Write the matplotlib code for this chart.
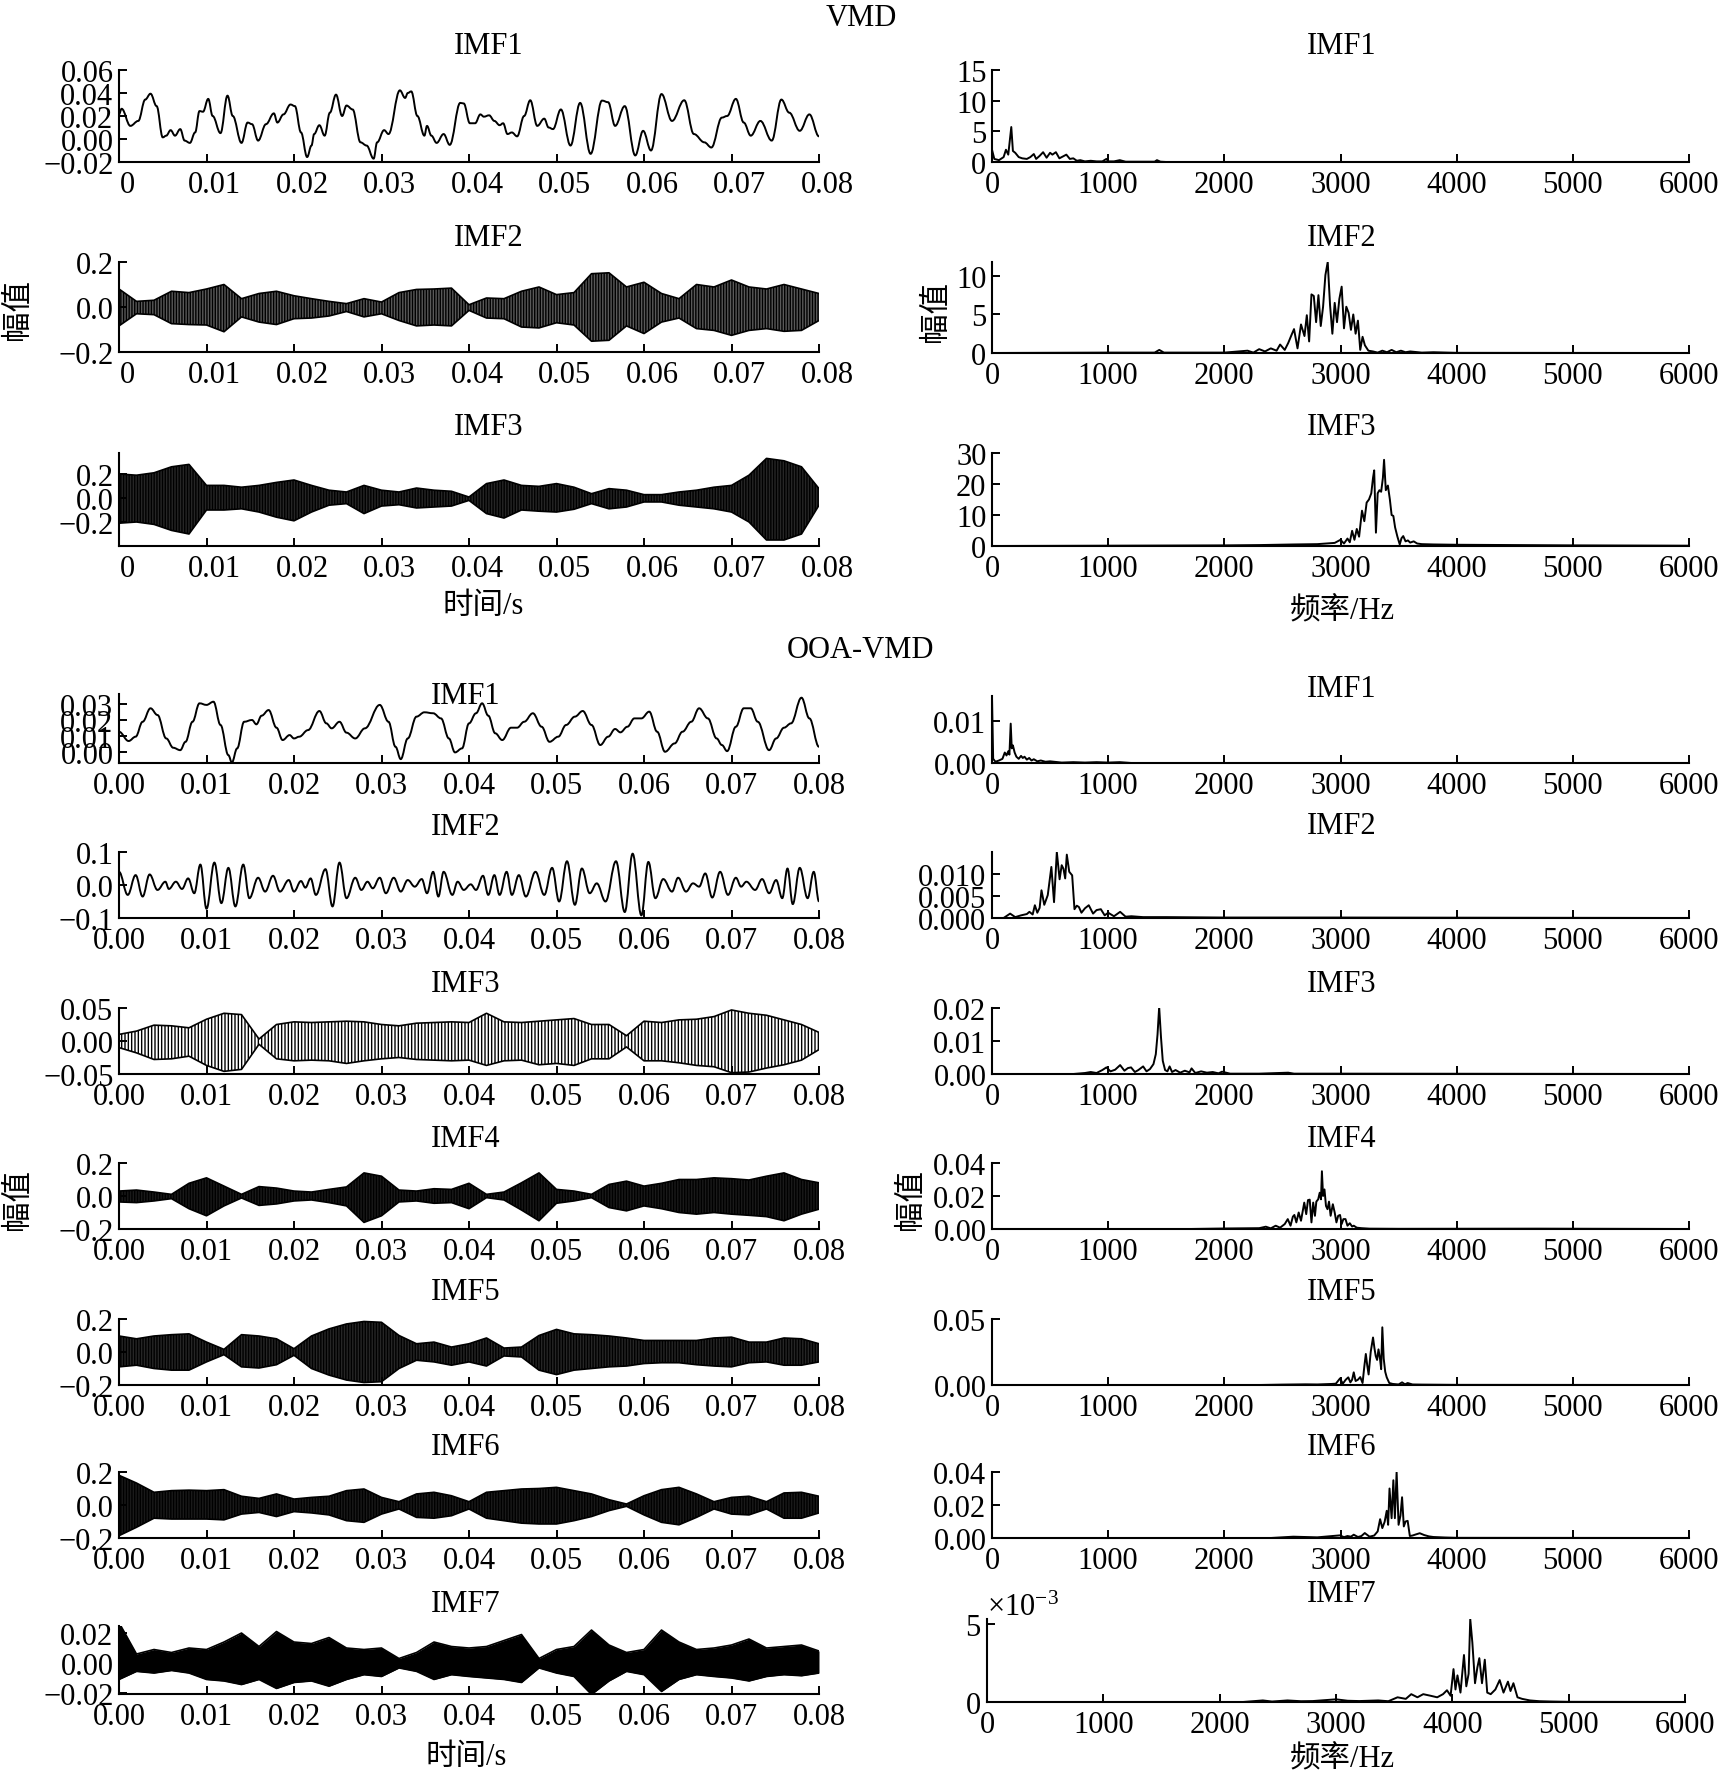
import numpy as np
import matplotlib
matplotlib.use('Agg')
import matplotlib.pyplot as plt
from matplotlib.path import Path
from matplotlib.patches import PathPatch
from matplotlib.ticker import ScalarFormatter
import matplotlib.transforms as mtransforms

plt.rcParams['font.family'] = ['Liberation Serif', 'Noto Sans CJK SC']
plt.rcParams['mathtext.fontset'] = 'custom'
plt.rcParams['mathtext.rm'] = 'Liberation Serif'
plt.rcParams['mathtext.it'] = 'Liberation Serif:italic'
plt.rcParams['hatch.linewidth'] = 1.0
plt.rcParams['axes.unicode_minus'] = True

# ---------------- data: time-domain (low frequency, extrema) ----------------
vmd1_t = [0, 0.0003, 0.0013, 0.0022, 0.0030, 0.0036, 0.0043, 0.0050, 0.0054, 0.0059, 0.0064, 0.0070,
          0.0075, 0.0081, 0.0087, 0.0092, 0.0096, 0.0102, 0.0107, 0.0116, 0.0124, 0.0130, 0.0140, 0.0147,
          0.0152, 0.0159, 0.0168, 0.0177, 0.0181, 0.0188, 0.0196, 0.0201, 0.0208, 0.0215, 0.0220, 0.0223,
          0.0229, 0.0235, 0.0241, 0.0248, 0.0255, 0.0260, 0.0267, 0.0276, 0.0283, 0.0291, 0.0295, 0.0303,
          0.0308, 0.0321, 0.0327, 0.0330, 0.0334, 0.0341, 0.0349, 0.0352, 0.0357, 0.0363, 0.0371, 0.0378,
          0.0390, 0.0394, 0.0401, 0.0407, 0.0413, 0.0417, 0.0423, 0.0429, 0.0435, 0.0439, 0.0444, 0.0449,
          0.0455, 0.0463, 0.0470, 0.0478, 0.0486, 0.0491, 0.0496, 0.0505, 0.0516, 0.0527, 0.0539, 0.0552,
          0.0559, 0.0567, 0.0578, 0.0590, 0.0599, 0.0608, 0.0620, 0.0632, 0.0646, 0.0657, 0.0669, 0.0677,
          0.0689, 0.0695, 0.0705, 0.0714, 0.0722, 0.0733, 0.0746, 0.0757, 0.0766, 0.0778, 0.0789, 0.0800]
vmd1_v = [0.0214, 0.0263, 0.0114, 0.0157, 0.0343, 0.0394, 0.0286, 0.0014, 0.0029, 0.0077, 0.0029, 0.0086,
          -0.0014, -0.0034, 0.0057, 0.0243, 0.0237, 0.0349, 0.0200, 0.0051, 0.0377, 0.0200, -0.0034, 0.0143,
          0.0129, -0.0014, 0.0129, 0.0223, 0.0143, 0.0214, 0.0300, 0.0286, 0.0057, -0.0157, -0.0057, 0.0043,
          0.0120, 0.0029, 0.0229, 0.0386, 0.0200, 0.0291, 0.0257, -0.0029, -0.0057, -0.0171, -0.0029, 0.0077,
          0.0043, 0.0423, 0.0357, 0.0400, 0.0414, 0.0200, 0.0029, 0.0114, 0.0029, -0.0034, 0.0043, -0.0051,
          0.0314, 0.0309, 0.0137, 0.0137, 0.0214, 0.0194, 0.0206, 0.0157, 0.0120, 0.0137, 0.0043, 0.0057,
          0.0023, 0.0200, 0.0337, 0.0114, 0.0177, 0.0100, 0.0086, 0.0257, -0.0057, 0.0314, -0.0129, 0.0334,
          0.0320, 0.0114, 0.0286, -0.0143, 0.0071, -0.0100, 0.0391, 0.0157, 0.0337, 0.0043, -0.0029, -0.0074,
          0.0186, 0.0200, 0.0349, 0.0143, 0.0029, 0.0157, -0.0014, 0.0343, 0.0229, 0.0071, 0.0214, 0.0023]

ooa1_t = [0, 0.0011, 0.0019, 0.0027, 0.0036, 0.0044, 0.0054, 0.0062, 0.0070, 0.0076, 0.0084, 0.0092,
          0.0100, 0.0108, 0.0116, 0.0125, 0.0129, 0.0135, 0.0143, 0.0152, 0.0157, 0.0163, 0.0171, 0.0180,
          0.0187, 0.0195, 0.0200, 0.0206, 0.0216, 0.0229, 0.0237, 0.0243, 0.0252, 0.0260, 0.0270, 0.0281,
          0.0298, 0.0308, 0.0316, 0.0322, 0.0330, 0.0340, 0.0349, 0.0359, 0.0368, 0.0377, 0.0384, 0.0392,
          0.0400, 0.0408, 0.0415, 0.0422, 0.0430, 0.0438, 0.0448, 0.0455, 0.0463, 0.0473, 0.0483, 0.0492,
          0.0502, 0.0511, 0.0521, 0.0530, 0.0540, 0.0550, 0.0559, 0.0567, 0.0573, 0.0581, 0.0589, 0.0597,
          0.0606, 0.0615, 0.0624, 0.0635, 0.0644, 0.0654, 0.0663, 0.0673, 0.0683, 0.0689, 0.0695, 0.0705,
          0.0714, 0.0722, 0.0730, 0.0743, 0.0751, 0.0760, 0.0768, 0.0780, 0.0789, 0.0800]
ooa1_v = [0.0125, 0.0067, 0.0094, 0.0187, 0.0271, 0.0229, 0.0083, 0.0025, 0.0010, 0.0062, 0.0187, 0.0302,
          0.0292, 0.0312, 0.0167, -0.0021, -0.0067, 0.0021, 0.0187, 0.0198, 0.0171, 0.0225, 0.0260, 0.0150,
          0.0073, 0.0104, 0.0083, 0.0094, 0.0135, 0.0254, 0.0177, 0.0146, 0.0187, 0.0119, 0.0083, 0.0146,
          0.0292, 0.0187, 0.0031, -0.0046, 0.0083, 0.0219, 0.0246, 0.0240, 0.0208, 0.0083, -0.0004, 0.0021,
          0.0177, 0.0240, 0.0302, 0.0225, 0.0115, 0.0073, 0.0150, 0.0150, 0.0187, 0.0240, 0.0156, 0.0062,
          0.0094, 0.0167, 0.0219, 0.0254, 0.0167, 0.0042, 0.0094, 0.0142, 0.0121, 0.0156, 0.0208, 0.0208,
          0.0250, 0.0125, 0.0000, 0.0052, 0.0125, 0.0187, 0.0271, 0.0208, 0.0083, 0.0042, 0.0004, 0.0156,
          0.0271, 0.0271, 0.0187, 0.0010, 0.0083, 0.0150, 0.0177, 0.0337, 0.0208, 0.0031]

ooa2_t = [0, 0.0010, 0.0019, 0.0027, 0.0035, 0.0044, 0.0053, 0.0057, 0.0065, 0.0072, 0.0079, 0.0086,
          0.0093, 0.0100, 0.0109, 0.0117, 0.0125, 0.0133, 0.0142, 0.0149, 0.0159, 0.0167, 0.0176, 0.0184,
          0.0194, 0.0200, 0.0208, 0.0213, 0.0219, 0.0225, 0.0236, 0.0244, 0.0252, 0.0260, 0.0270, 0.0277,
          0.0284, 0.0290, 0.0298, 0.0305, 0.0314, 0.0322, 0.0330, 0.0338, 0.0346, 0.0352, 0.0359, 0.0365,
          0.0371, 0.0381, 0.0387, 0.0394, 0.0402, 0.0408, 0.0416, 0.0422, 0.0429, 0.0435, 0.0443, 0.0449,
          0.0457, 0.0465, 0.0476, 0.0486, 0.0495, 0.0503, 0.0512, 0.0521, 0.0529, 0.0538, 0.0546, 0.0556,
          0.0568, 0.0578, 0.0587, 0.0597, 0.0605, 0.0613, 0.0622, 0.0632, 0.0639, 0.0648, 0.0656, 0.0663,
          0.0670, 0.0678, 0.0687, 0.0696, 0.0705, 0.0711, 0.0717, 0.0727, 0.0735, 0.0743, 0.0751, 0.0758,
          0.0764, 0.0770, 0.0778, 0.0787, 0.0794, 0.0800]
ooa2_v = [0.040, -0.030, 0.030, -0.035, 0.032, -0.015, 0.010, -0.012, 0.010, -0.012, 0.020, -0.025,
          0.062, -0.072, 0.068, -0.055, 0.052, -0.065, 0.062, -0.040, 0.022, -0.020, 0.028, -0.020,
          0.015, -0.020, 0.012, -0.008, 0.020, -0.030, 0.048, -0.065, 0.068, -0.040, 0.022, -0.015,
          0.010, -0.010, 0.022, -0.025, 0.022, -0.020, 0.015, -0.005, 0.018, -0.025, 0.040, -0.035,
          0.040, -0.030, 0.010, -0.015, 0.002, -0.015, 0.028, -0.030, 0.030, -0.030, 0.040, -0.030,
          0.030, -0.035, 0.040, -0.030, 0.052, -0.050, 0.072, -0.060, 0.050, -0.025, 0.005, -0.050,
          0.072, -0.082, 0.095, -0.092, 0.070, -0.040, 0.018, -0.020, 0.022, -0.020, 0.005, -0.005,
          0.035, -0.038, 0.040, -0.030, 0.022, -0.005, 0.010, -0.015, 0.018, -0.025, 0.015, -0.040,
          0.050, -0.058, 0.052, -0.040, 0.040, -0.050]

# ---------------- data: time-domain (dense oscillations, envelopes read every 2 ms) ----------------
env_time = np.linspace(0, 0.08, 41)

vmd2_upper = [0.08, 0.025, 0.03, 0.07, 0.064, 0.08, 0.10, 0.037, 0.06, 0.07, 0.05, 0.037, 0.025, 0.015,
              0.037, 0.022, 0.064, 0.078, 0.08, 0.084, 0.01, 0.04, 0.037, 0.07, 0.089, 0.055, 0.064,
              0.148, 0.152, 0.089, 0.11, 0.06, 0.037, 0.10, 0.089, 0.12, 0.089, 0.08, 0.10, 0.08, 0.06]
vmd2_lower = [-0.084, -0.03, -0.034, -0.074, -0.078, -0.08, -0.11, -0.044, -0.067, -0.078, -0.052,
              -0.049, -0.04, -0.02, -0.044, -0.03, -0.06, -0.084, -0.08, -0.084, -0.015, -0.049, -0.052,
              -0.089, -0.093, -0.07, -0.08, -0.152, -0.148, -0.084, -0.118, -0.067, -0.049, -0.096,
              -0.104, -0.126, -0.104, -0.096, -0.108, -0.104, -0.06]

vmd3_upper = [0.2, 0.19, 0.21, 0.26, 0.28, 0.105, 0.105, 0.09, 0.105, 0.13, 0.15, 0.105, 0.065, 0.05,
              0.105, 0.065, 0.05, 0.083, 0.065, 0.056, 0.008, 0.12, 0.15, 0.105, 0.097, 0.12, 0.09,
              0.036, 0.078, 0.065, 0.028, 0.028, 0.05, 0.065, 0.09, 0.105, 0.19, 0.33, 0.31, 0.26, 0.078]
vmd3_lower = [-0.21, -0.2, -0.22, -0.27, -0.30, -0.10, -0.10, -0.09, -0.117, -0.16, -0.19, -0.117,
              -0.06, -0.047, -0.13, -0.067, -0.056, -0.083, -0.075, -0.067, -0.02, -0.13, -0.167, -0.10,
              -0.11, -0.117, -0.094, -0.047, -0.09, -0.075, -0.033, -0.033, -0.06, -0.075, -0.09,
              -0.117, -0.2, -0.35, -0.35, -0.30, -0.06]

ooa3_upper = [0.01, 0.015, 0.024, 0.023, 0.02, 0.033, 0.042, 0.04, 0.003, 0.025, 0.029, 0.028, 0.029,
              0.03, 0.029, 0.025, 0.023, 0.027, 0.028, 0.029, 0.028, 0.042, 0.029, 0.028, 0.03, 0.032,
              0.034, 0.025, 0.025, 0.008, 0.03, 0.028, 0.032, 0.033, 0.037, 0.047, 0.042, 0.039, 0.032,
              0.025, 0.013]
ooa3_lower = [-0.01, -0.018, -0.028, -0.027, -0.023, -0.037, -0.046, -0.043, -0.005, -0.027, -0.03,
              -0.029, -0.03, -0.034, -0.03, -0.027, -0.025, -0.028, -0.029, -0.03, -0.029, -0.037,
              -0.03, -0.029, -0.036, -0.034, -0.037, -0.027, -0.027, -0.009, -0.03, -0.03, -0.033,
              -0.037, -0.039, -0.048, -0.047, -0.041, -0.036, -0.029, -0.013]

ooa4_upper = [0.03, 0.036, 0.024, 0.01, 0.077, 0.11, 0.06, 0.01, 0.057, 0.048, 0.03, 0.024, 0.04,
              0.055, 0.14, 0.12, 0.036, 0.03, 0.044, 0.04, 0.077, 0.01, 0.024, 0.08, 0.14, 0.04, 0.03,
              0.01, 0.07, 0.09, 0.06, 0.077, 0.10, 0.10, 0.11, 0.105, 0.097, 0.12, 0.14, 0.10, 0.08]
ooa4_lower = [-0.036, -0.04, -0.03, -0.016, -0.077, -0.12, -0.06, -0.012, -0.057, -0.048, -0.03,
              -0.024, -0.04, -0.06, -0.16, -0.12, -0.036, -0.03, -0.044, -0.04, -0.077, -0.01, -0.024,
              -0.085, -0.15, -0.044, -0.03, -0.01, -0.07, -0.09, -0.06, -0.077, -0.10, -0.11, -0.10,
              -0.11, -0.117, -0.125, -0.15, -0.11, -0.08]

ooa5_upper = [0.097, 0.08, 0.097, 0.105, 0.11, 0.06, 0.016, 0.105, 0.097, 0.08, 0.02, 0.097, 0.14,
              0.17, 0.185, 0.18, 0.10, 0.05, 0.06, 0.03, 0.05, 0.085, 0.024, 0.03, 0.10, 0.137, 0.11,
              0.105, 0.097, 0.085, 0.07, 0.07, 0.07, 0.07, 0.085, 0.09, 0.06, 0.06, 0.085, 0.08, 0.05]
ooa5_lower = [-0.09, -0.08, -0.10, -0.11, -0.11, -0.06, -0.016, -0.09, -0.097, -0.077, -0.02, -0.10,
              -0.14, -0.17, -0.185, -0.18, -0.10, -0.05, -0.06, -0.08, -0.06, -0.085, -0.024, -0.03,
              -0.11, -0.137, -0.11, -0.10, -0.09, -0.085, -0.07, -0.065, -0.065, -0.077, -0.085, -0.09,
              -0.065, -0.06, -0.08, -0.08, -0.06]

ooa6_upper = [0.18, 0.133, 0.077, 0.087, 0.09, 0.087, 0.093, 0.053, 0.04, 0.067, 0.036, 0.046, 0.053,
              0.087, 0.097, 0.046, 0.02, 0.067, 0.077, 0.056, 0.02, 0.077, 0.087, 0.097, 0.10, 0.107,
              0.087, 0.067, 0.032, 0.006, 0.056, 0.093, 0.107, 0.067, 0.02, 0.046, 0.053, 0.02, 0.073,
              0.077, 0.053]
ooa6_lower = [-0.186, -0.135, -0.08, -0.085, -0.085, -0.085, -0.09, -0.055, -0.045, -0.07, -0.04,
              -0.048, -0.06, -0.095, -0.105, -0.055, -0.024, -0.075, -0.08, -0.065, -0.024, -0.08,
              -0.095, -0.11, -0.115, -0.115, -0.095, -0.07, -0.034, -0.008, -0.06, -0.105, -0.12,
              -0.075, -0.024, -0.055, -0.06, -0.024, -0.08, -0.08, -0.048]

ooa7_upper = [0.027, 0.006, 0.009, 0.007, 0.010, 0.009, 0.014, 0.020, 0.011, 0.021, 0.014, 0.013,
              0.017, 0.010, 0.009, 0.010, 0.003, 0.007, 0.014, 0.011, 0.010, 0.011, 0.015, 0.019, 0.003,
              0.009, 0.011, 0.022, 0.012, 0.007, 0.009, 0.022, 0.014, 0.009, 0.010, 0.012, 0.016, 0.010,
              0.011, 0.012, 0.008]
ooa7_lower = [-0.011, -0.0056, -0.0067, -0.005, -0.0067, -0.011, -0.012, -0.0144, -0.011, -0.017,
              -0.013, -0.012, -0.0155, -0.011, -0.0078, -0.009, -0.0033, -0.0056, -0.011, -0.0078,
              -0.009, -0.01, -0.011, -0.013, -0.0033, -0.0067, -0.009, -0.021, -0.012, -0.0056, -0.0078,
              -0.019, -0.011, -0.0078, -0.009, -0.01, -0.012, -0.009, -0.0078, -0.0085, -0.0067]

# ---------------- data: spectra ----------------
vmd_s1_f = [0, 20, 60, 100, 120, 140, 166, 180, 200, 230, 260, 300, 330, 360, 380, 410, 440, 470, 500,
            520, 550, 580, 610, 640, 670, 700, 730, 760, 800, 850, 900, 950, 985, 1000, 1050, 1100, 1150,
            1200, 1300, 1400, 1420, 1450, 1500, 2000, 6000]
vmd_s1_a = [2.0, 0.5, 0.3, 0.8, 2.0, 1.2, 5.7, 1.8, 1.5, 0.8, 0.6, 0.5, 0.8, 1.3, 0.5, 1.0, 1.6, 0.7, 1.5,
            1.2, 1.6, 0.6, 0.9, 1.2, 0.5, 0.6, 0.2, 0.3, 0.1, 0.2, 0.1, 0.1, 0.5, 0.1, 0.1, 0.3, 0.05,
            0.05, 0.05, 0.05, 0.3, 0.05, 0, 0, 0]

vmd_s2_f = [0, 1000, 1400, 1440, 1480, 2000, 2200, 2250, 2300, 2350, 2400, 2450, 2480, 2520, 2550,
            2580, 2600, 2630, 2660, 2690, 2710, 2730, 2750, 2770, 2790, 2810, 2830, 2850, 2870, 2890,
            2910, 2930, 2950, 2970, 2990, 3010, 3030, 3050, 3070, 3090, 3110, 3130, 3150, 3170, 3190,
            3210, 3240, 3280, 3320, 3360, 3400, 3440, 3480, 3520, 3560, 3600, 3700, 3800, 4000, 6000]
vmd_s2_a = [0, 0.05, 0.05, 0.4, 0.05, 0.05, 0.3, 0.05, 0.5, 0.2, 0.6, 0.3, 1.1, 0.4, 1.3, 2.4, 3.1,
            0.6, 3.7, 2.2, 4.9, 1.5, 7.6, 7.4, 4.0, 7.5, 3.5, 6.0, 10.1, 11.8, 6.2, 2.5, 6.5, 4.0, 7.0,
            8.6, 3.2, 6.0, 5.2, 3.0, 5.0, 2.5, 4.2, 0.4, 2.1, 1.0, 0.3, 0.2, 0.05, 0.3, 0.1, 0.4, 0.1,
            0.3, 0.1, 0.2, 0.05, 0.1, 0.02, 0]

vmd_s3_f = [0, 1000, 2000, 2300, 2600, 2800, 2950, 3000, 3030, 3060, 3080, 3100, 3120, 3140, 3160,
            3185, 3205, 3225, 3245, 3265, 3280, 3290, 3305, 3320, 3335, 3350, 3365, 3375, 3390, 3408,
            3425, 3440, 3455, 3470, 3490, 3510, 3525, 3540, 3560, 3580, 3600, 3630, 3660, 3700, 3800,
            4000, 5000, 6000]
vmd_s3_a = [0, 0.1, 0.2, 0.3, 0.5, 0.6, 1.0, 2.0, 0.8, 2.4, 1.2, 4.9, 2.0, 5.5, 3.0, 11.4, 8.0, 14.0,
            15.0, 17.0, 22.0, 24.4, 4.3, 17.0, 18.0, 17.5, 22.0, 27.8, 18.0, 19.5, 15.0, 10.0, 9.7, 6.0,
            3.0, 0.5, 2.5, 3.2, 1.5, 1.8, 1.1, 1.5, 0.8, 0.6, 0.5, 0.4, 0.2, 0.1]

ooa_s1_f = [0, 10, 30, 60, 90, 110, 125, 140, 150, 161, 170, 180, 195, 210, 230, 250, 265, 280, 300,
            320, 340, 360, 390, 420, 460, 500, 600, 700, 800, 900, 1000, 1100, 1200, 6000]
ooa_s1_a = [0.0157, 0.001, 0.0003, 0.0006, 0.001, 0.0025, 0.0018, 0.0028, 0.002, 0.0094, 0.0035,
            0.0042, 0.0025, 0.0015, 0.001, 0.0017, 0.0012, 0.0015, 0.0008, 0.0012, 0.0006, 0.0009,
            0.0004, 0.0006, 0.0003, 0.0004, 0.0001, 0.0002, 0.0001, 0.0002, 0.0001, 0.0002, 0, 0]

ooa_s2_f = [0, 100, 156, 200, 250, 300, 322, 350, 369, 390, 410, 426, 450, 480, 511, 534, 558, 582, 600,
            615, 630, 644, 665, 690, 710, 730, 748, 770, 800, 833, 870, 900, 937, 970, 1000, 1050, 1103,
            1150, 1200, 1300, 1500, 2000, 3000, 6000]
ooa_s2_a = [0, 0, 0.001, 0.0002, 0.0006, 0.0009, 0.0014, 0.0008, 0.0029, 0.0012, 0.0023, 0.0063, 0.003,
            0.0052, 0.0116, 0.0036, 0.015, 0.0088, 0.012, 0.0112, 0.009, 0.0144, 0.0105, 0.0097, 0.002,
            0.0028, 0.0025, 0.0012, 0.0022, 0.0029, 0.001, 0.0018, 0.002, 0.0006, 0.0012, 0.0004, 0.0014,
            0.0003, 0.0004, 0.0002, 0.0002, 0.0001, 0.0001, 0]

ooa_s3_f = [0, 700, 800, 850, 900, 950, 985, 1020, 1060, 1103, 1140, 1170, 1197, 1230, 1260, 1301, 1330,
            1360, 1390, 1410, 1425, 1439, 1455, 1470, 1490, 1510, 1529, 1550, 1580, 1620, 1660, 1700,
            1718, 1750, 1800, 1850, 1900, 1950, 1980, 2050, 2300, 2550, 2600, 3000, 6000]
ooa_s3_a = [0, 0, 0.0003, 0.0006, 0.0003, 0.0012, 0.002, 0.0008, 0.0013, 0.0027, 0.001, 0.0018, 0.002,
            0.0006, 0.0012, 0.0023, 0.0008, 0.0015, 0.003, 0.006, 0.012, 0.0203, 0.011, 0.004, 0.0012,
            0.0008, 0.0023, 0.0006, 0.0012, 0.0004, 0.001, 0.0005, 0.0017, 0.0003, 0.0008, 0.0004,
            0.0006, 0.0002, 0.0007, 0.0001, 0.0001, 0.0004, 0.0001, 0.0001, 0]

ooa_s4_f = [0, 1700, 2000, 2300, 2357, 2400, 2442, 2480, 2520, 2546, 2570, 2590, 2603, 2620, 2640, 2660,
            2688, 2705, 2720, 2735, 2750, 2765, 2780, 2792, 2808, 2821, 2832, 2840, 2850, 2862, 2875,
            2888, 2901, 2915, 2934, 2950, 2965, 2980, 2996, 3010, 3025, 3043, 3060, 3080, 3100, 3114,
            3140, 3180, 3250, 3500, 4700, 6000]
ooa_s4_a = [0, 0, 0.0003, 0.0005, 0.0014, 0.0004, 0.002, 0.0008, 0.003, 0.006, 0.002, 0.0075, 0.0085,
            0.004, 0.01, 0.005, 0.016, 0.009, 0.0175, 0.0178, 0.004, 0.016, 0.008, 0.0166, 0.018, 0.022,
            0.018, 0.035, 0.02, 0.024, 0.014, 0.012, 0.0166, 0.008, 0.015, 0.01, 0.004, 0.008, 0.0085,
            0.003, 0.006, 0.006, 0.002, 0.0035, 0.0015, 0.002, 0.0008, 0.0005, 0.0002, 0.0001, 0.0002, 0]

ooa_s5_f = [0, 2300, 2500, 2700, 2800, 2925, 2960, 2996, 3020, 3045, 3067, 3085, 3100, 3114, 3130, 3150,
            3170, 3190, 3205, 3218, 3230, 3242, 3260, 3280, 3292, 3303, 3315, 3327, 3340, 3350, 3360,
            3372, 3385, 3398, 3420, 3450, 3500, 3530, 3555, 3578, 3620, 3700, 4000, 6000]
ooa_s5_a = [0, 0, 0.0003, 0.0005, 0.0004, 0.0008, 0.001, 0.005, 0.001, 0.004, 0.0058, 0.002, 0.004,
            0.0096, 0.003, 0.004, 0.006, 0.0015, 0.014, 0.0235, 0.015, 0.008, 0.025, 0.036, 0.028, 0.022,
            0.019, 0.027, 0.02, 0.012, 0.0437, 0.02, 0.01, 0.0058, 0.0015, 0.0008, 0.0004, 0.002, 0.0005,
            0.0015, 0.0004, 0.0003, 0.0001, 0]

ooa_s6_f = [0, 2400, 2594, 2800, 2996, 3030, 3060, 3090, 3114, 3150, 3180, 3209, 3250, 3290, 3320, 3341,
            3360, 3380, 3398, 3410, 3422, 3440, 3455, 3468, 3483, 3500, 3516, 3530, 3545, 3560, 3578,
            3597, 3620, 3650, 3682, 3720, 3760, 3800, 3900, 4000, 6000]
ooa_s6_a = [0, 0, 0.0008, 0.0004, 0.0016, 0.0005, 0.0012, 0.0008, 0.002, 0.0006, 0.0012, 0.003, 0.0008,
            0.0015, 0.004, 0.0114, 0.006, 0.0098, 0.0165, 0.008, 0.03, 0.012, 0.035, 0.012, 0.04, 0.008,
            0.0135, 0.0247, 0.007, 0.01, 0.0104, 0.0012, 0.0015, 0.0022, 0.0029, 0.0018, 0.001, 0.0006,
            0.0003, 0.0001, 0]

ooa_s7_f = [0, 2200, 2371, 2450, 2583, 2700, 2800, 3000, 3100, 3200, 3363, 3450, 3529, 3600, 3647, 3700,
            3750, 3812, 3870, 3920, 3954, 3985, 4010, 4027, 4044, 4070, 4100, 4120, 4140, 4154, 4172,
            4195, 4215, 4232, 4255, 4279, 4300, 4330, 4370, 4407, 4440, 4478, 4500, 4525, 4560, 4600,
            4667, 4750, 4850, 5000, 6000]
ooa_s7_a = [0, 0, 0.0001, 0.00003, 0.0001, 0.00005, 0.00006, 0.00017, 0.00008, 0.00006, 0.0001, 0.00005,
            0.0003, 0.0002, 0.0005, 0.0003, 0.0005, 0.0004, 0.0003, 0.0005, 0.00075, 0.0004, 0.0021,
            0.0008, 0.0017, 0.0006, 0.003, 0.001, 0.0018, 0.0053, 0.0038, 0.0012, 0.0022, 0.0028, 0.0012,
            0.0027, 0.0006, 0.0005, 0.0008, 0.0014, 0.0006, 0.0013, 0.0007, 0.0012, 0.0003, 0.0002,
            0.0001, 0.00005, 0.00003, 0.00001, 0]

# ---------------- tick values / labels ----------------
time_ticks = [0, 0.01, 0.02, 0.03, 0.04, 0.05, 0.06, 0.07, 0.08]
vmd_time_labels = ['0', '0.01', '0.02', '0.03', '0.04', '0.05', '0.06', '0.07', '0.08']
ooa_time_labels = ['0.00', '0.01', '0.02', '0.03', '0.04', '0.05', '0.06', '0.07', '0.08']
freq_ticks = [0, 1000, 2000, 3000, 4000, 5000, 6000]
freq_labels = ['0', '1000', '2000', '3000', '4000', '5000', '6000']

MINUS = '\u2212'

# ---------------- figure ----------------
W, H = 1732, 1783
fig = plt.figure(figsize=(W / 100, H / 100), dpi=100)
FS = 22


def add_ax(x0, y0, x1, y1):
    return fig.add_axes([x0 / W, 1 - y1 / H, (x1 - x0) / W, (y1 - y0) / H])


def style(ax, xlim, ylim, xticks, xlabels, yticks, ylabels):
    ax.set_xlim(xlim)
    ax.set_ylim(ylim)
    for s in ['top', 'right']:
        ax.spines[s].set_visible(False)
    for s in ['left', 'bottom']:
        ax.spines[s].set_linewidth(1.5)
    ax.set_xticks(xticks)
    ax.set_xticklabels(xlabels)
    if yticks is not None:
        ax.set_yticks(yticks)
        ax.set_yticklabels([l.replace('-', MINUS) for l in ylabels])
    ax.tick_params(direction='in', length=6, width=1.4, labelsize=FS, pad=4)
    ax.tick_params(axis='x', pad=6)
    ax.patch.set_alpha(0)


def smooth_line(ax, t, v, lw=1.4):
    t = np.asarray(t, float)
    v = np.asarray(v, float)
    verts = [(t[0], v[0])]
    codes = [Path.MOVETO]
    for i in range(len(t) - 1):
        dx = t[i + 1] - t[i]
        verts += [(t[i] + 0.38 * dx, v[i]), (t[i + 1] - 0.38 * dx, v[i + 1]), (t[i + 1], v[i + 1])]
        codes += [Path.CURVE4] * 3
    ax.add_patch(PathPatch(Path(verts, codes), fill=False, lw=lw, ec='black', joinstyle='round'))


def dense(ax, upper, lower, face='black', hatch=None):
    ax.fill_between(env_time, lower, upper, facecolor=face, edgecolor='black', lw=0, hatch=hatch)
    ax.plot(env_time, upper, color='black', lw=1.2)
    ax.plot(env_time, lower, color='black', lw=1.2)


def shift_xlabels(ax, dx_px):
    off = mtransforms.ScaledTranslation(dx_px / 100, 0, fig.dpi_scale_trans)
    for lab in ax.get_xticklabels():
        lab.set_transform(lab.get_transform() + off)


LX0, LX1 = 119, 819
RX0, RX1 = 992, 1689

# ---- VMD section ----
ax = add_ax(LX0, 71, LX1, 163)
smooth_line(ax, vmd1_t, vmd1_v)
style(ax, (0, 0.08), (-0.02, 0.06), time_ticks, vmd_time_labels,
      [-0.02, 0, 0.02, 0.04, 0.06], ['-0.02', '0.00', '0.02', '0.04', '0.06'])
shift_xlabels(ax, 8)

ax = add_ax(LX0, 263, LX1, 353)
dense(ax, vmd2_upper, vmd2_lower, face='0.35', hatch='||||||')
style(ax, (0, 0.08), (-0.2, 0.2), time_ticks, vmd_time_labels, [-0.2, 0, 0.2], ['-0.2', '0.0', '0.2'])
shift_xlabels(ax, 8)

ax = add_ax(LX0, 454, LX1, 547)
dense(ax, vmd3_upper, vmd3_lower, face='0.15', hatch='||||||')
style(ax, (0, 0.08), (-0.4, 0.375), time_ticks, vmd_time_labels, [-0.2, 0, 0.2], ['-0.2', '0.0', '0.2'])
shift_xlabels(ax, 8)

ax = add_ax(RX0, 71, RX1, 163)
ax.plot(vmd_s1_f, vmd_s1_a, color='black', lw=1.4)
style(ax, (0, 6000), (0, 15), freq_ticks, freq_labels, [0, 5, 10, 15], ['0', '5', '10', '15'])

ax = add_ax(RX0, 263, RX1, 354)
ax.plot(vmd_s2_f, vmd_s2_a, color='black', lw=1.4)
style(ax, (0, 6000), (0, 11.8), freq_ticks, freq_labels, [0, 5, 10], ['0', '5', '10'])

ax = add_ax(RX0, 454, RX1, 547)
ax.plot(vmd_s3_f, vmd_s3_a, color='black', lw=1.4)
style(ax, (0, 6000), (0, 30), freq_ticks, freq_labels, [0, 10, 20, 30], ['0', '10', '20', '30'])

# ---- OOA-VMD section ----
ax = add_ax(LX0, 695, LX1, 764)
smooth_line(ax, ooa1_t, ooa1_v)
style(ax, (0, 0.08), (-0.007, 0.036), time_ticks, ooa_time_labels,
      [0, 0.01, 0.02, 0.03], ['0.00', '0.01', '0.02', '0.03'])

ax = add_ax(LX0, 853, LX1, 919)
smooth_line(ax, ooa2_t, ooa2_v)
style(ax, (0, 0.08), (-0.1, 0.1), time_ticks, ooa_time_labels, [-0.1, 0, 0.1], ['-0.1', '0.0', '0.1'])

ax = add_ax(LX0, 1009, LX1, 1075)
dense(ax, ooa3_upper, ooa3_lower, face='none', hatch='|||||')
style(ax, (0, 0.08), (-0.05, 0.05), time_ticks, ooa_time_labels,
      [-0.05, 0, 0.05], ['-0.05', '0.00', '0.05'])

ax = add_ax(LX0, 1164, LX1, 1230)
dense(ax, ooa4_upper, ooa4_lower, face='0.1', hatch='||||||')
style(ax, (0, 0.08), (-0.2, 0.2), time_ticks, ooa_time_labels, [-0.2, 0, 0.2], ['-0.2', '0.0', '0.2'])

ax = add_ax(LX0, 1320, LX1, 1386)
dense(ax, ooa5_upper, ooa5_lower, face='0.15', hatch='||||||')
style(ax, (0, 0.08), (-0.2, 0.2), time_ticks, ooa_time_labels, [-0.2, 0, 0.2], ['-0.2', '0.0', '0.2'])

ax = add_ax(LX0, 1473, LX1, 1539)
dense(ax, ooa6_upper, ooa6_lower, face='0.1', hatch='||||||')
style(ax, (0, 0.08), (-0.2, 0.2), time_ticks, ooa_time_labels, [-0.2, 0, 0.2], ['-0.2', '0.0', '0.2'])

ax = add_ax(LX0, 1627, LX1, 1695)
dense(ax, ooa7_upper, ooa7_lower, face='black')
style(ax, (0, 0.08), (-0.0207, 0.0247), time_ticks, ooa_time_labels,
      [-0.02, 0, 0.02], ['-0.02', '0.00', '0.02'])

ax = add_ax(RX0, 697, RX1, 764)
ax.plot(ooa_s1_f, ooa_s1_a, color='black', lw=1.4)
style(ax, (0, 6000), (0, 0.016), freq_ticks, freq_labels, [0, 0.01], ['0.00', '0.01'])

ax = add_ax(RX0, 853, RX1, 919)
ax.plot(ooa_s2_f, ooa_s2_a, color='black', lw=1.4)
style(ax, (0, 6000), (0, 0.015), freq_ticks, freq_labels,
      [0, 0.005, 0.010], ['0.000', '0.005', '0.010'])

ax = add_ax(RX0, 1009, RX1, 1075)
ax.plot(ooa_s3_f, ooa_s3_a, color='black', lw=1.4)
style(ax, (0, 6000), (0, 0.02), freq_ticks, freq_labels, [0, 0.01, 0.02], ['0.00', '0.01', '0.02'])

ax = add_ax(RX0, 1164, RX1, 1230)
ax.plot(ooa_s4_f, ooa_s4_a, color='black', lw=1.4)
style(ax, (0, 6000), (0, 0.04), freq_ticks, freq_labels, [0, 0.02, 0.04], ['0.00', '0.02', '0.04'])

ax = add_ax(RX0, 1320, RX1, 1386)
ax.plot(ooa_s5_f, ooa_s5_a, color='black', lw=1.4)
style(ax, (0, 6000), (0, 0.05), freq_ticks, freq_labels, [0, 0.05], ['0.00', '0.05'])

ax = add_ax(RX0, 1473, RX1, 1539)
ax.plot(ooa_s6_f, ooa_s6_a, color='black', lw=1.4)
style(ax, (0, 6000), (0, 0.04), freq_ticks, freq_labels, [0, 0.02, 0.04], ['0.00', '0.02', '0.04'])

ax = add_ax(987, 1620, 1685, 1703)
ax.plot(ooa_s7_f, ooa_s7_a, color='black', lw=1.4)
style(ax, (0, 6000), (0, 0.0053), freq_ticks, freq_labels, None, None)
ax.set_yticks([0, 0.005])
sf = ScalarFormatter(useMathText=True)
sf.set_powerlimits((-3, -3))
ax.yaxis.set_major_formatter(sf)
ax.yaxis.get_offset_text().set_fontsize(FS)

# ---------------- texts ----------------
def ftext(x, y, s, **kw):
    kw.setdefault('fontsize', FS)
    fig.text(x / W, 1 - y / H, s, ha='center', va='center', **kw)


ftext(861, 19, 'VMD')
ftext(861, 650, 'OOA-VMD')
for y, s in [(47, 'IMF1'), (238, 'IMF2'), (428, 'IMF3')]:
    ftext(489, y, s)
    ftext(1342, y, s)
left_titles_y = [697, 828, 985, 1140, 1293, 1448, 1605]
right_titles_y = [690, 827, 985, 1140, 1293, 1448, 1595]
for i in range(7):
    ftext(466, left_titles_y[i], 'IMF%d' % (i + 1))
    ftext(1342, right_titles_y[i], 'IMF%d' % (i + 1))

ftext(483, 607, '时间/s')
ftext(1342, 612, '频率/Hz')
ftext(466, 1758, '时间/s')
ftext(1342, 1760, '频率/Hz')
ftext(19, 310, '幅值', rotation=90)
ftext(936, 312, '幅值', rotation=90)
ftext(19, 1200, '幅值', rotation=90)
ftext(911, 1200, '幅值', rotation=90)

fig.savefig('out.png', dpi=100)
